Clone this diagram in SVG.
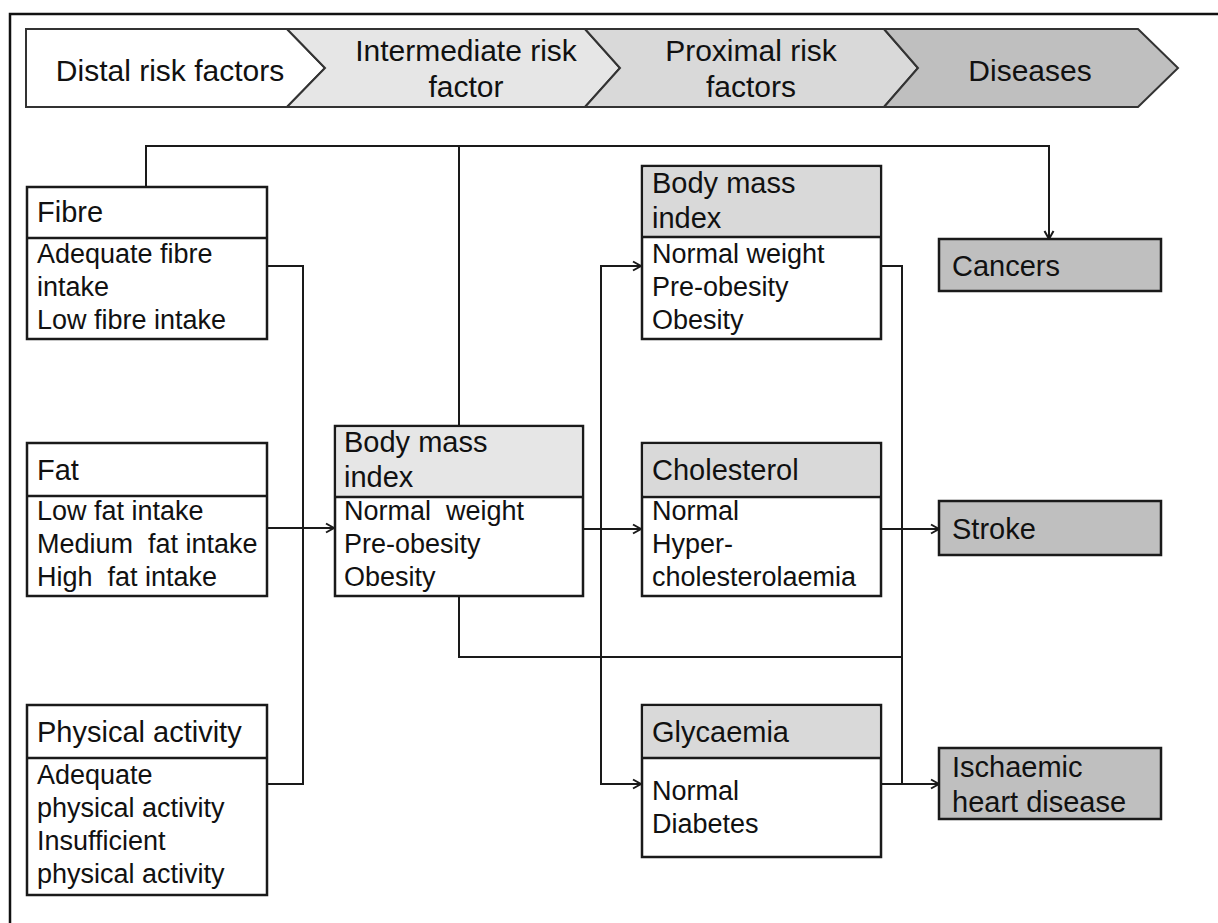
<svg xmlns="http://www.w3.org/2000/svg" width="1218" height="923" viewBox="0 0 1218 923">
<style>
text{font-family:"Liberation Sans",Arial,sans-serif;fill:#111}
.hd{font-size:30px}
.tt{font-size:29px}
.it{font-size:27px}
.box{fill:#fff;stroke:#1a1a1a;stroke-width:2.5}
.div{stroke:#1a1a1a;stroke-width:2.5}
.h1{fill:#e6e6e6}
.h2{fill:#d9d9d9}
.dis{fill:#bfbfbf;stroke:#1a1a1a;stroke-width:2.5}
.seg{stroke:#333;stroke-width:2}
.con{fill:none;stroke:#1a1a1a;stroke-width:2}
</style>
<defs>
<marker id="arr" markerUnits="userSpaceOnUse" markerWidth="12" markerHeight="12" refX="10" refY="6" orient="auto">
<path d="M2,1.5 L10,6 L2,10.5" fill="none" stroke="#1a1a1a" stroke-width="2"/>
</marker>
</defs>
<rect width="1218" height="923" fill="#fff"/>
<path d="M10,923 V14 H1218" fill="none" stroke="#111" stroke-width="2.5"/>

<g id="header">
<polygon class="seg" fill="#fff" points="26,29 287,29 325,68 287,107 26,107"/>
<polygon class="seg" fill="#e6e6e6" points="287,29 585,29 620,68 585,107 287,107 325,68"/>
<polygon class="seg" fill="#d9d9d9" points="585,29 884,29 918,68 884,107 585,107 620,68"/>
<polygon class="seg" fill="#bfbfbf" points="884,29 1138,29 1178,68 1138,107 884,107 918,68"/>
<text class="hd" x="170" y="81" text-anchor="middle">Distal risk factors</text>
<text class="hd" x="466" y="61" text-anchor="middle">Intermediate risk</text>
<text class="hd" x="466" y="97" text-anchor="middle">factor</text>
<text class="hd" x="751" y="61" text-anchor="middle">Proximal risk</text>
<text class="hd" x="751" y="97" text-anchor="middle">factors</text>
<text class="hd" x="1030" y="81" text-anchor="middle">Diseases</text>
</g>

<g id="connectors">
<path class="con" d="M146,187 V146 H1049 V239" marker-end="url(#arr)"/>
<path class="con" d="M459,426 V146"/>
<path class="con" d="M267,266 H303 V784 H267"/>
<path class="con" d="M267,528 H334" marker-end="url(#arr)"/>
<path class="con" d="M583,529 H641" marker-end="url(#arr)" stroke="#444"/>
<path class="con" d="M601,529 V266 H641" marker-end="url(#arr)"/>
<path class="con" d="M601,529 V784 H641" marker-end="url(#arr)"/>
<path class="con" d="M459,596 V657 H902"/>
<path class="con" d="M881,266 H902 V784 H881"/>
<path class="con" d="M881,529 H939" marker-end="url(#arr)"/>
<path class="con" d="M881,784 H939" marker-end="url(#arr)" stroke="#444"/>
</g>

<g id="fibre">
<rect class="box" x="27" y="187" width="240" height="152"/>
<line class="div" x1="27" y1="238" x2="267" y2="238"/>
<text class="tt" x="37" y="222">Fibre</text>
<text class="it" x="37" y="263">Adequate fibre</text>
<text class="it" x="37" y="296">intake</text>
<text class="it" x="37" y="329">Low fibre intake</text>
</g>

<g id="fat">
<rect class="box" x="27" y="443" width="240" height="153"/>
<line class="div" x1="27" y1="496" x2="267" y2="496"/>
<text class="tt" x="37" y="480">Fat</text>
<text class="it" x="37" y="520">Low fat intake</text>
<text class="it" x="37" y="553" xml:space="preserve">Medium  fat intake</text>
<text class="it" x="37" y="586" xml:space="preserve">High  fat intake</text>
</g>

<g id="physical-activity">
<rect class="box" x="27" y="705" width="240" height="190"/>
<line class="div" x1="27" y1="758" x2="267" y2="758"/>
<text class="tt" x="37" y="742">Physical activity</text>
<text class="it" x="37" y="784">Adequate</text>
<text class="it" x="37" y="817">physical activity</text>
<text class="it" x="37" y="850">Insufficient</text>
<text class="it" x="37" y="883">physical activity</text>
</g>

<g id="bmi-intermediate">
<rect class="box" x="335" y="426" width="248" height="170"/>
<rect class="h1" x="336.5" y="427.5" width="245" height="69"/>
<line class="div" x1="335" y1="497" x2="583" y2="497"/>
<text class="tt" x="344" y="452">Body mass</text>
<text class="tt" x="344" y="487">index</text>
<text class="it" x="344" y="520" xml:space="preserve">Normal  weight</text>
<text class="it" x="344" y="553">Pre-obesity</text>
<text class="it" x="344" y="586">Obesity</text>
</g>

<g id="bmi-proximal">
<rect class="box" x="642" y="166" width="239" height="173"/>
<rect class="h2" x="643.5" y="167.5" width="236" height="69"/>
<line class="div" x1="642" y1="237" x2="881" y2="237"/>
<text class="tt" x="652" y="193">Body mass</text>
<text class="tt" x="652" y="228">index</text>
<text class="it" x="652" y="263">Normal weight</text>
<text class="it" x="652" y="296">Pre-obesity</text>
<text class="it" x="652" y="329">Obesity</text>
</g>

<g id="cholesterol">
<rect class="box" x="642" y="443" width="239" height="153"/>
<rect class="h2" x="643.5" y="444.5" width="236" height="51"/>
<line class="div" x1="642" y1="497" x2="881" y2="497"/>
<text class="tt" x="652" y="480">Cholesterol</text>
<text class="it" x="652" y="520">Normal</text>
<text class="it" x="652" y="553">Hyper-</text>
<text class="it" x="652" y="586">cholesterolaemia</text>
</g>

<g id="glycaemia">
<rect class="box" x="642" y="705" width="239" height="152"/>
<rect class="h2" x="643.5" y="706.5" width="236" height="51"/>
<line class="div" x1="642" y1="758" x2="881" y2="758"/>
<text class="tt" x="652" y="742">Glycaemia</text>
<text class="it" x="652" y="800">Normal</text>
<text class="it" x="652" y="833">Diabetes</text>
</g>

<g id="cancers">
<rect class="dis" x="939" y="239" width="222" height="52"/>
<text class="tt" x="952" y="276">Cancers</text>
</g>

<g id="stroke">
<rect class="dis" x="939" y="501" width="222" height="54"/>
<text class="tt" x="952" y="539">Stroke</text>
</g>

<g id="ihd">
<rect class="dis" x="939" y="748" width="222" height="71"/>
<text class="tt" x="952" y="777">Ischaemic</text>
<text class="tt" x="952" y="812">heart disease</text>
</g>
</svg>
